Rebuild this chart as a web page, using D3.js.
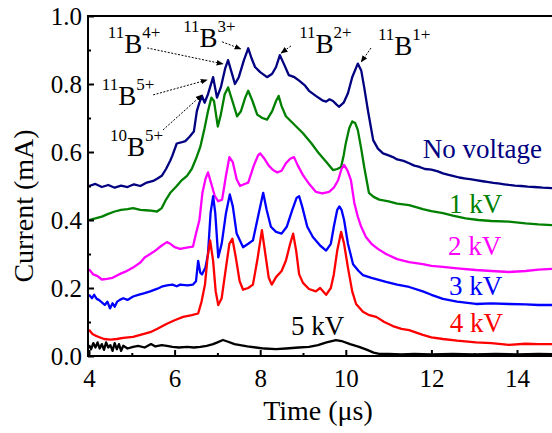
<!DOCTYPE html>
<html><head><meta charset="utf-8">
<script src="https://cdn.jsdelivr.net/npm/d3@7"></script>
<style>html,body{margin:0;padding:0;background:#fff;} svg{display:block;} svg text{font-family:"Liberation Serif","Times New Roman",Times,"DejaVu Serif",serif;}</style>
</head><body>
<script>
// ---------- data ----------
const xTicks = [4, 6, 8, 10, 12, 14];
const xMinorTicks = [5, 7, 9, 11, 13, 15];
const yTicks = [0.0, 0.2, 0.4, 0.6, 0.8, 1.0];
const yMinorTicks = [0.1, 0.3, 0.5, 0.7, 0.9];
const xLabel = "Time (\u03bcs)";
const yLabel = "Current (mA)";

const tNoVoltage = [4.0,4.15,4.3,4.45,4.6,4.75,4.9,5.05,5.2,5.35,5.5,5.6,5.7,5.8,5.9,5.95,6.05,6.15,6.25,6.35,6.45,6.52,6.58,6.64,6.70,6.78,6.9,6.99,7.08,7.18,7.25,7.33,7.41,7.5,7.62,7.72,7.8,7.88,8.0,8.16,8.28,8.37,8.46,8.55,8.67,8.8,8.91,9.05,9.14,9.3,9.45,9.54,9.62,9.70,9.78,9.84,9.95,10.05,10.15,10.28,10.36,10.43,10.52,10.64,10.75,10.87,11.0,11.1,11.2,11.35,11.48,11.6,11.7,11.85,12.0,12.15,12.27,12.4,12.5,12.65,12.8,12.9,13.04,13.2,13.3,13.45,13.6,13.7,13.81,13.95,14.1,14.25,14.4,14.6,14.82,15.0];
const iNoVoltage = [0.500,0.506,0.497,0.503,0.495,0.501,0.497,0.505,0.500,0.510,0.515,0.522,0.530,0.550,0.575,0.590,0.625,0.628,0.632,0.645,0.660,0.720,0.745,0.765,0.745,0.770,0.820,0.760,0.790,0.845,0.870,0.835,0.800,0.820,0.870,0.905,0.875,0.850,0.835,0.820,0.830,0.850,0.885,0.860,0.826,0.820,0.810,0.795,0.780,0.765,0.752,0.748,0.755,0.750,0.740,0.733,0.745,0.773,0.820,0.860,0.840,0.790,0.720,0.635,0.610,0.596,0.590,0.585,0.578,0.574,0.567,0.560,0.557,0.550,0.548,0.543,0.537,0.533,0.530,0.525,0.522,0.520,0.517,0.514,0.512,0.509,0.507,0.505,0.503,0.501,0.500,0.498,0.497,0.495,0.494,0.493];

const t1kV = [4.0,4.15,4.3,4.45,4.6,4.75,4.9,5.03,5.2,5.4,5.59,5.7,5.8,5.9,6.05,6.15,6.29,6.4,6.5,6.6,6.7,6.78,6.86,6.92,7.01,7.08,7.17,7.25,7.35,7.46,7.55,7.65,7.72,7.82,7.93,8.05,8.16,8.28,8.37,8.43,8.5,8.6,8.8,9.0,9.2,9.37,9.55,9.7,9.8,9.89,9.95,10.0,10.08,10.15,10.22,10.28,10.36,10.43,10.54,10.65,10.78,11.0,11.2,11.48,11.8,12.0,12.27,12.5,12.8,13.1,13.4,13.81,14.2,14.5,14.82,15.0];
const i1kV = [0.400,0.405,0.410,0.418,0.425,0.430,0.432,0.435,0.430,0.428,0.425,0.435,0.460,0.480,0.500,0.515,0.530,0.550,0.580,0.615,0.670,0.720,0.760,0.750,0.675,0.710,0.770,0.790,0.750,0.705,0.720,0.760,0.780,0.750,0.710,0.700,0.695,0.720,0.750,0.765,0.735,0.705,0.680,0.655,0.625,0.596,0.570,0.547,0.550,0.556,0.590,0.626,0.670,0.690,0.685,0.665,0.610,0.556,0.480,0.468,0.460,0.455,0.448,0.444,0.432,0.426,0.420,0.413,0.405,0.400,0.397,0.395,0.390,0.387,0.385,0.384];

const t2kV = [4.0,4.1,4.2,4.3,4.42,4.55,4.7,4.85,5.03,5.2,5.3,5.43,5.55,5.7,5.82,5.9,6.0,6.13,6.25,6.35,6.43,6.5,6.58,6.65,6.72,6.78,6.85,6.94,7.02,7.11,7.2,7.28,7.36,7.45,7.53,7.62,7.72,7.85,7.95,8.0,8.1,8.2,8.3,8.4,8.5,8.6,8.7,8.79,8.88,9.0,9.15,9.3,9.45,9.61,9.72,9.82,9.9,9.96,10.04,10.12,10.2,10.28,10.36,10.47,10.6,10.75,10.94,11.2,11.48,11.8,12.0,12.27,12.6,13.04,13.4,13.81,14.2,14.5,14.82,15.0];
const i2kV = [0.255,0.240,0.235,0.225,0.227,0.230,0.240,0.248,0.260,0.275,0.290,0.300,0.310,0.325,0.335,0.330,0.320,0.315,0.318,0.320,0.322,0.360,0.400,0.480,0.520,0.540,0.510,0.470,0.455,0.460,0.530,0.585,0.570,0.520,0.500,0.505,0.510,0.560,0.590,0.596,0.580,0.560,0.547,0.540,0.545,0.567,0.580,0.585,0.560,0.532,0.505,0.483,0.478,0.483,0.495,0.517,0.550,0.562,0.545,0.517,0.450,0.410,0.380,0.350,0.330,0.315,0.300,0.285,0.276,0.270,0.265,0.262,0.258,0.253,0.250,0.247,0.250,0.254,0.256,0.257];

const t3kV = [4.0,4.07,4.12,4.18,4.23,4.3,4.37,4.43,4.49,4.55,4.6,4.66,4.72,4.8,4.9,5.03,5.15,5.3,5.43,5.6,5.72,5.82,5.95,6.05,6.13,6.3,6.43,6.5,6.55,6.6,6.64,6.72,6.78,6.84,6.9,6.95,7.02,7.1,7.2,7.29,7.36,7.45,7.6,7.72,7.83,7.95,8.07,8.15,8.25,8.37,8.5,8.62,8.75,8.85,8.91,8.98,9.1,9.23,9.4,9.54,9.65,9.72,9.8,9.85,9.9,9.96,10.05,10.17,10.3,10.4,10.6,10.94,11.2,11.48,11.8,12.0,12.27,12.6,13.04,13.4,13.81,14.2,14.5,14.82,15.0];
const i3kV = [0.180,0.170,0.180,0.168,0.165,0.158,0.150,0.160,0.140,0.155,0.145,0.160,0.165,0.170,0.165,0.175,0.180,0.185,0.190,0.198,0.205,0.208,0.210,0.205,0.210,0.208,0.210,0.220,0.280,0.245,0.240,0.260,0.300,0.420,0.470,0.420,0.290,0.330,0.420,0.475,0.440,0.360,0.320,0.330,0.340,0.410,0.480,0.430,0.380,0.365,0.360,0.380,0.430,0.465,0.470,0.440,0.380,0.350,0.325,0.310,0.330,0.380,0.430,0.440,0.430,0.400,0.330,0.270,0.250,0.238,0.230,0.218,0.210,0.203,0.190,0.180,0.168,0.160,0.153,0.155,0.153,0.152,0.150,0.150,0.148];

const t4kV = [4.0,4.08,4.15,4.23,4.35,4.5,4.65,4.8,5.03,5.2,5.43,5.6,5.82,6.0,6.2,6.4,6.55,6.63,6.71,6.77,6.83,6.9,6.96,7.02,7.1,7.2,7.28,7.35,7.43,7.52,7.6,7.72,7.83,7.93,8.04,8.12,8.2,8.27,8.37,8.5,8.6,8.7,8.77,8.84,8.91,9.0,9.14,9.3,9.4,9.54,9.65,9.72,9.8,9.89,9.96,10.05,10.15,10.24,10.4,10.55,10.71,10.9,11.1,11.3,11.48,11.8,12.0,12.27,12.6,13.04,13.4,13.81,14.2,14.5,14.82,15.0];
const i4kV = [0.077,0.065,0.060,0.056,0.050,0.048,0.050,0.053,0.056,0.062,0.070,0.080,0.095,0.105,0.115,0.120,0.125,0.160,0.210,0.290,0.340,0.280,0.190,0.150,0.170,0.260,0.330,0.345,0.290,0.220,0.195,0.200,0.210,0.280,0.370,0.300,0.230,0.210,0.232,0.250,0.280,0.330,0.360,0.310,0.240,0.215,0.197,0.190,0.200,0.180,0.200,0.240,0.310,0.365,0.330,0.260,0.190,0.153,0.130,0.120,0.115,0.100,0.088,0.080,0.076,0.062,0.055,0.050,0.045,0.040,0.038,0.033,0.036,0.035,0.035,0.034];

const t5kV = [4.0,4.05,4.1,4.15,4.2,4.25,4.3,4.35,4.4,4.45,4.5,4.55,4.6,4.65,4.7,4.75,4.8,4.9,5.03,5.15,5.3,5.45,5.55,5.7,5.82,5.95,6.1,6.3,6.45,6.6,6.75,6.9,7.0,7.13,7.25,7.4,7.53,7.7,7.9,8.1,8.37,8.6,8.9,9.14,9.35,9.55,9.77,9.9,10.1,10.31,10.5,10.65,10.78,11.0,11.3,11.6,12.0,12.5,13.0,13.5,14.0,14.5,15.0];
const i5kV = [0.032,0.020,0.038,0.025,0.040,0.022,0.035,0.018,0.040,0.025,0.032,0.015,0.038,0.020,0.035,0.015,0.030,0.022,0.027,0.030,0.025,0.035,0.028,0.032,0.030,0.027,0.025,0.027,0.025,0.027,0.030,0.035,0.040,0.047,0.042,0.035,0.032,0.028,0.025,0.022,0.020,0.022,0.025,0.027,0.032,0.040,0.047,0.044,0.035,0.027,0.018,0.010,0.006,0.006,0.005,0.006,0.005,0.006,0.005,0.006,0.005,0.006,0.005];

const seriesNames = ["No voltage", "1 kV", "2 kV", "3 kV", "4 kV", "5 kV"];
const seriesColors = ["#000080", "#008000", "#ff00ff", "#0000ff", "#ff0000", "#000000"];
const seriesTimes = [tNoVoltage, t1kV, t2kV, t3kV, t4kV, t5kV];
const seriesValues = [iNoVoltage, i1kV, i2kV, i3kV, i4kV, i5kV];
// label anchor (time, current) for each series label
const labelTime = [11.80, 12.41, 12.39, 12.41, 12.43, 8.72];
const labelCurrent = [0.582, 0.420, 0.297, 0.179, 0.070, 0.062];

// ion annotations
const ionMass = ["11", "11", "11", "10", "11", "11"];
const ionCharge = ["4+", "3+", "5+", "5+", "2+", "1+"];
const ionTextTime = [4.44, 6.20, 4.30, 4.49, 8.91, 10.75];
const ionTextCurrent = [0.891, 0.909, 0.738, 0.588, 0.891, 0.885];
const arrowFromTime = [5.36, 7.11, 5.50, 5.73, 8.72, 10.59];
const arrowFromCurrent = [0.906, 0.924, 0.768, 0.665, 0.912, 0.906];
const arrowToTime = [7.13, 7.55, 6.76, 6.64, 8.49, 10.36];
const arrowToCurrent = [0.859, 0.903, 0.812, 0.768, 0.891, 0.865];

// ---------- chart ----------
const W = 552, H = 433;
const m = {left: 88, top: 16, bottom: 356};
const FONT = '"Liberation Serif","Times New Roman",Times,"DejaVu Serif",serif';

const x = d3.scaleLinear().domain([4, 15]).range([89, 89 + 11 * 42.8]);
const y = d3.scaleLinear().domain([0, 1]).range([356, 16]);

const svg = d3.select("body").append("svg").attr("width", W).attr("height", H)
  .style("background", "#fff");

svg.append("defs").append("clipPath").attr("id", "plotclip")
  .append("rect").attr("x", m.left).attr("y", m.top).attr("width", W - m.left).attr("height", m.bottom - m.top);

svg.select("defs").append("marker").attr("id", "arrowhead")
  .attr("viewBox", "0 0 10 10").attr("refX", 9).attr("refY", 5)
  .attr("markerWidth", 7).attr("markerHeight", 7).attr("orient", "auto")
  .attr("markerUnits", "userSpaceOnUse")
  .append("path").attr("d", "M0,1 L10,5 L0,9 Z").attr("fill", "#000");

// lines
const plot = svg.append("g").attr("clip-path", "url(#plotclip)");
seriesNames.forEach((name, k) => {
  const pts = seriesTimes[k].map((t, i) => [t, seriesValues[k][i]]);
  plot.append("path")
    .datum(pts)
    .attr("fill", "none")
    .attr("stroke", seriesColors[k])
    .attr("stroke-width", 2.3)
    .attr("stroke-linejoin", "round")
    .attr("d", d3.line().x(d => x(d[0])).y(d => y(d[1])));
});

// axes
const xAxis = svg.append("g").attr("transform", `translate(0,${y(0)})`)
  .call(d3.axisBottom(x).tickValues(xTicks).tickSize(-6).tickFormat(d3.format("d")));
const xMinor = svg.append("g").attr("transform", `translate(0,${y(0)})`)
  .call(d3.axisBottom(x).tickValues(xMinorTicks).tickSize(-3).tickFormat(""));
const yAxis = svg.append("g").attr("transform", `translate(${m.left},0)`)
  .call(d3.axisLeft(y).tickValues(yTicks).tickSize(-6).tickPadding(6).tickFormat(d3.format(".1f")));
const yMinor = svg.append("g").attr("transform", `translate(${m.left},0)`)
  .call(d3.axisLeft(y).tickValues(yMinorTicks).tickSize(-3).tickFormat(""));
[xAxis, xMinor, yAxis, yMinor].forEach(g => {
  g.attr("font-family", null);
  g.select(".domain").remove();
  g.selectAll(".tick line").attr("stroke", "#000").attr("stroke-width", 2);
});
xAxis.selectAll(".tick text").attr("y", 31).attr("dy", 0)
  .style("font-family", FONT).attr("font-size", 25).attr("fill", "#000");
yAxis.selectAll(".tick text").style("font-family", FONT).attr("font-size", 25).attr("fill", "#000")
  .attr("dy", "0.33em");

// frame (left, top, bottom)
svg.append("path")
  .attr("d", `M${W},${y(1)} L${m.left},${y(1)} L${m.left},${y(0)} L${W},${y(0)}`)
  .attr("fill", "none").attr("stroke", "#000").attr("stroke-width", 2);

// axis titles
svg.append("text").attr("x", 318).attr("y", 420).attr("text-anchor", "middle")
  .style("font-family", FONT).attr("font-size", 28).text(xLabel);
svg.append("text").attr("transform", `translate(33,206) rotate(-90)`).attr("text-anchor", "middle")
  .style("font-family", FONT).attr("font-size", 28).text(yLabel);

// series labels
seriesNames.forEach((name, k) => {
  svg.append("text").attr("x", x(labelTime[k])).attr("y", y(labelCurrent[k]))
    .style("font-family", FONT).attr("font-size", 27).attr("fill", seriesColors[k]).text(name);
});

// arrows
ionMass.forEach((mm, k) => {
  svg.append("line")
    .attr("x1", x(arrowFromTime[k])).attr("y1", y(arrowFromCurrent[k]))
    .attr("x2", x(arrowToTime[k])).attr("y2", y(arrowToCurrent[k]))
    .attr("stroke", "#000").attr("stroke-width", 1)
    .attr("stroke-dasharray", "2,1.5")
    .attr("marker-end", "url(#arrowhead)");
});

// ion labels
ionMass.forEach((mm, k) => {
  const t = svg.append("text").attr("x", x(ionTextTime[k])).attr("y", y(ionTextCurrent[k]))
    .style("font-family", FONT).attr("fill", "#000");
  t.append("tspan").attr("font-size", 17).attr("dy", -15).text(mm);
  t.append("tspan").attr("font-size", 27).attr("dy", 15).text("B");
  t.append("tspan").attr("font-size", 17).attr("dy", -15).text(ionCharge[k]);
});
</script>
</body></html>
